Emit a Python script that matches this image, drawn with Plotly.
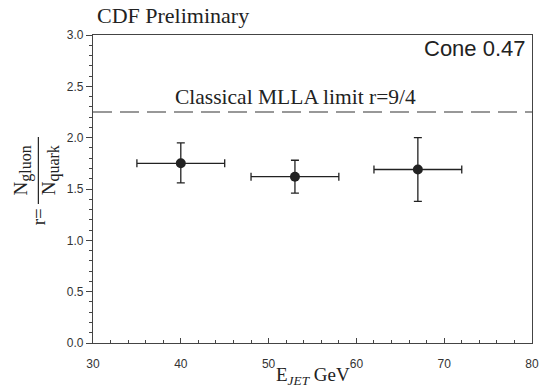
import plotly.graph_objects as go

# Data
energy = [40, 53, 67]
ratio = [1.75, 1.62, 1.69]
err_plus = [0.20, 0.16, 0.31]
err_minus = [0.19, 0.16, 0.31]
x_err = [5, 5, 5]
mlla_limit = 2.25
x_range = [30, 80]
y_range = [0.0, 3.0]

W, H = 551, 388
L, R, T, B = 93, 16, 35, 45
pw, ph = W - L - R, H - T - B

def px(xp):
    return (xp - L) / pw

def py(yp):
    return (H - B - yp) / ph

serif = "Liberation Serif, Times New Roman, serif"
sans = "Liberation Sans, Arial, sans-serif"

fig = go.Figure()
fig.add_trace(go.Scatter(
    x=x_range, y=[mlla_limit, mlla_limit], mode="lines",
    line=dict(color="#333", width=1.2, dash="19px,8px"),
    hoverinfo="skip", showlegend=False))
fig.add_trace(go.Scatter(
    x=energy, y=ratio, mode="markers",
    marker=dict(color="#222", size=10),
    error_y=dict(type="data", symmetric=False, array=err_plus, arrayminus=err_minus,
                 color="#222", thickness=1.3, width=4),
    error_x=dict(type="data", array=x_err, color="#222", thickness=1.3, width=4),
    showlegend=False))

axis_common = dict(showline=True, linecolor="#444", linewidth=1.2, mirror=True,
                   tickcolor="#444", tickwidth=1,
                   showgrid=False, zeroline=False,
                   tickfont=dict(family=sans, size=12, color="#333"))
fig.update_xaxes(range=x_range, dtick=10, tick0=30, ticks="inside", ticklen=5,
                 ticklabelstandoff=9,
                 minor=dict(dtick=2, ticks="inside", ticklen=3, tickcolor="#444"),
                 **axis_common)
fig.update_yaxes(range=y_range, dtick=0.5, tickformat=".1f", ticks="outside", ticklen=6,
                 minor=dict(dtick=0.1, ticks="outside", ticklen=3, tickcolor="#444"),
                 **axis_common)

ann = [
    dict(text="CDF Preliminary", x=px(95), y=py(15), xanchor="left", yanchor="middle",
         font=dict(family=serif, size=22, color="#222")),
    dict(text="Cone 0.47", x=px(531), y=py(48), xanchor="right", yanchor="middle",
         font=dict(family=sans, size=22, color="#222")),
    dict(text="Classical MLLA limit r=9/4", x=px(174), y=py(97), xanchor="left", yanchor="middle",
         font=dict(family=serif, size=21.5, color="#222")),
    dict(text="E<sub><i>JET</i></sub> GeV", x=px(314), y=py(376), xanchor="center", yanchor="middle",
         font=dict(family=serif, size=19, color="#222")),
    dict(text="N<sub><span style='font-size:16px'>gluon</span></sub>", x=px(22), y=py(170),
         xanchor="center", yanchor="middle",
         textangle=-90, font=dict(family=serif, size=19, color="#222")),
    dict(text="N<sub><span style='font-size:16px'>quark</span></sub>", x=px(50), y=py(170),
         xanchor="center", yanchor="middle",
         textangle=-90, font=dict(family=serif, size=19, color="#222")),
    dict(text="r=", x=px(39), y=py(217), xanchor="center", yanchor="middle",
         textangle=-90, font=dict(family=serif, size=19, color="#222")),
]
for a in ann:
    a.update(xref="paper", yref="paper", showarrow=False)

fig.update_layout(
    width=W, height=H, margin=dict(l=L, r=R, t=T, b=B),
    plot_bgcolor="white", paper_bgcolor="white",
    annotations=ann,
    shapes=[dict(type="line", xref="paper", yref="paper",
                 x0=px(38), x1=px(38), y0=py(137), y1=py(204),
                 line=dict(color="#222", width=1.2))],
)
fig.write_html("out.html")
